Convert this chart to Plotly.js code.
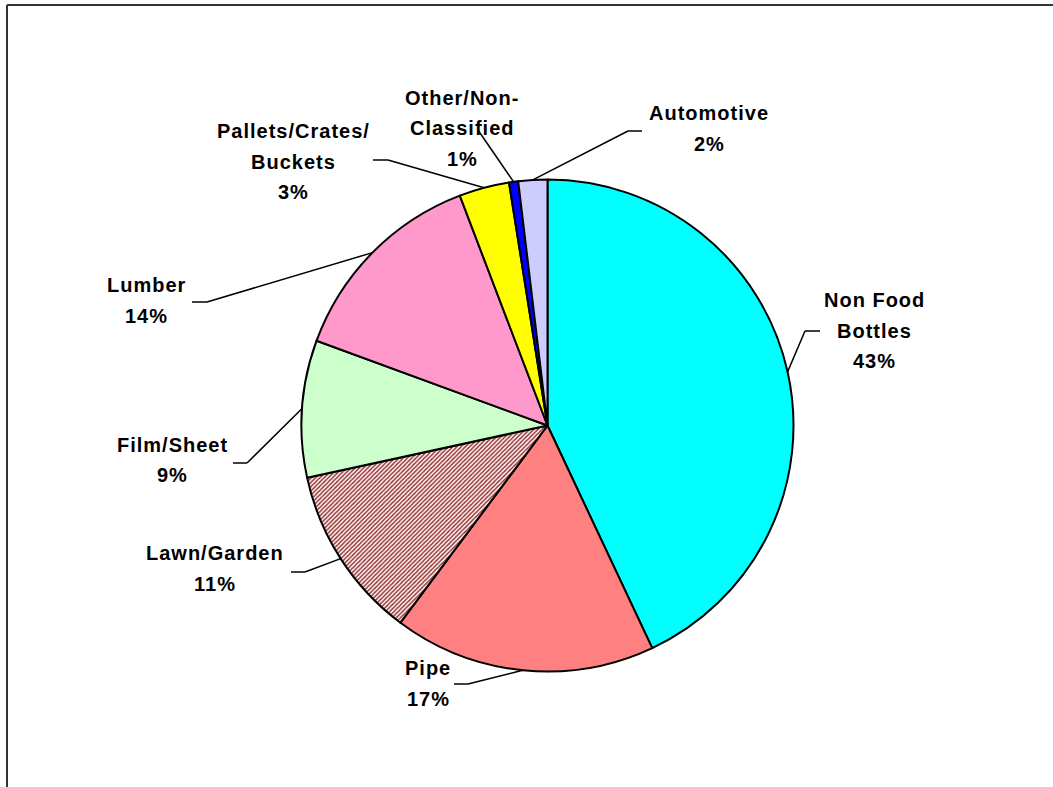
<!DOCTYPE html>
<html>
<head>
<meta charset="utf-8">
<script src="https://cdn.plot.ly/plotly-3.0.1.min.js"></script>
<style>
  html, body { margin: 0; padding: 0; background: #fff; }
  #chart { width: 1053px; height: 787px; }
  .annotation-text { letter-spacing: 1px; }
</style>
</head>
<body>
<div id="chart"></div>
<script>
// ---- data ----
const categories = ['Non Food Bottles', 'Pipe', 'Lawn/Garden', 'Film/Sheet', 'Lumber',
                    'Pallets/Crates/Buckets', 'Other/Non-Classified', 'Automotive'];
const shares = [43.0, 17.2, 11.4, 9.0, 13.6, 3.3, 0.6, 1.9];
const labelLines = [['Non Food', 'Bottles'], ['Pipe'], ['Lawn/Garden'], ['Film/Sheet'], ['Lumber'],
                    ['Pallets/Crates/', 'Buckets'], ['Other/Non-', 'Classified'], ['Automotive']];

// ---- styles / layout ----
const sliceColors = ['#00FFFF', '#FF8080', '#FFFFFF', '#CCFFCC', '#FF99CC', '#FFFF00', '#0000FF', '#CCCCFF'];
const slicePatterns = ['', '', '/', '', '', '', '', ''];
const W = 1053, H = 787;
const cx = 547.5, cy = 425.5, R = 246;
// label first-line centre (px) and leader elbow/end points (px)
const labelPos = [[874, 300], [428, 668], [215, 553], [172, 445], [146, 285], [293, 131], [462, 98], [709, 113]];
const elbowPos = [[805, 331], [468, 684], [305, 572], [247, 463], [207, 302], [388, 160], [478, 130], [628, 131]];
const endPos   = [[820, 331], [454, 684], [291, 572], [233, 463], [192, 302], [373, 160], [478, 130], [642, 131]];
const lineGap = 30.5;

const px = x => x / W;
const py = y => 1 - y / H;

const total = shares.reduce((a, b) => a + b, 0);
const annotations = [];
const shapes = [];
let cum = 0;
shares.forEach((v, i) => {
  const theta = 2 * Math.PI * (cum + v / 2) / total;
  cum += v;
  const ax = cx + R * Math.sin(theta);
  const ay = cy - R * Math.cos(theta);
  const lines = labelLines[i].concat([Math.round(v / total * 100) + '%']);
  lines.forEach((t, k) => {
    annotations.push({
      xref: 'paper', yref: 'paper',
      x: px(labelPos[i][0]), y: py(labelPos[i][1] + k * lineGap),
      xanchor: 'center', yanchor: 'middle',
      text: t, showarrow: false,
      font: { family: 'Arial, "Liberation Sans", sans-serif', size: 20, color: '#000', weight: 'bold' }
    });
  });
  const lineStyle = { color: '#000', width: 1.5 };
  shapes.push({ type: 'line', xref: 'paper', yref: 'paper',
    x0: px(ax), y0: py(ay), x1: px(elbowPos[i][0]), y1: py(elbowPos[i][1]), line: lineStyle });
  if (endPos[i][0] !== elbowPos[i][0] || endPos[i][1] !== elbowPos[i][1]) {
    shapes.push({ type: 'line', xref: 'paper', yref: 'paper',
      x0: px(elbowPos[i][0]), y0: py(elbowPos[i][1]), x1: px(endPos[i][0]), y1: py(endPos[i][1]), line: lineStyle });
  }
});

// outer frame
shapes.push({ type: 'line', xref: 'paper', yref: 'paper', x0: px(7), y0: py(5), x1: px(W + 5), y1: py(5),
  line: { color: '#333', width: 2 } });
shapes.push({ type: 'line', xref: 'paper', yref: 'paper', x0: px(7), y0: py(5), x1: px(7), y1: py(H + 5),
  line: { color: '#333', width: 2 } });

const trace = {
  type: 'pie',
  labels: categories,
  values: shares,
  sort: false,
  direction: 'clockwise',
  rotation: 0,
  textinfo: 'none',
  hoverinfo: 'label+percent',
  showlegend: false,
  domain: { x: [px(cx - R), px(cx + R)], y: [py(cy + R), py(cy - R)] },
  marker: {
    colors: sliceColors,
    line: { color: '#000', width: 2 },
    pattern: { shape: slicePatterns, fgcolor: '#993333', bgcolor: '#FFFFFF', size: 3, solidity: 0.5 }
  }
};

const layout = {
  width: W, height: H,
  margin: { l: 0, r: 0, t: 0, b: 0 },
  paper_bgcolor: '#fff',
  plot_bgcolor: '#fff',
  showlegend: false,
  annotations: annotations,
  shapes: shapes
};

Plotly.newPlot('chart', [trace], layout, { displayModeBar: false, staticPlot: true });
</script>
</body>
</html>
